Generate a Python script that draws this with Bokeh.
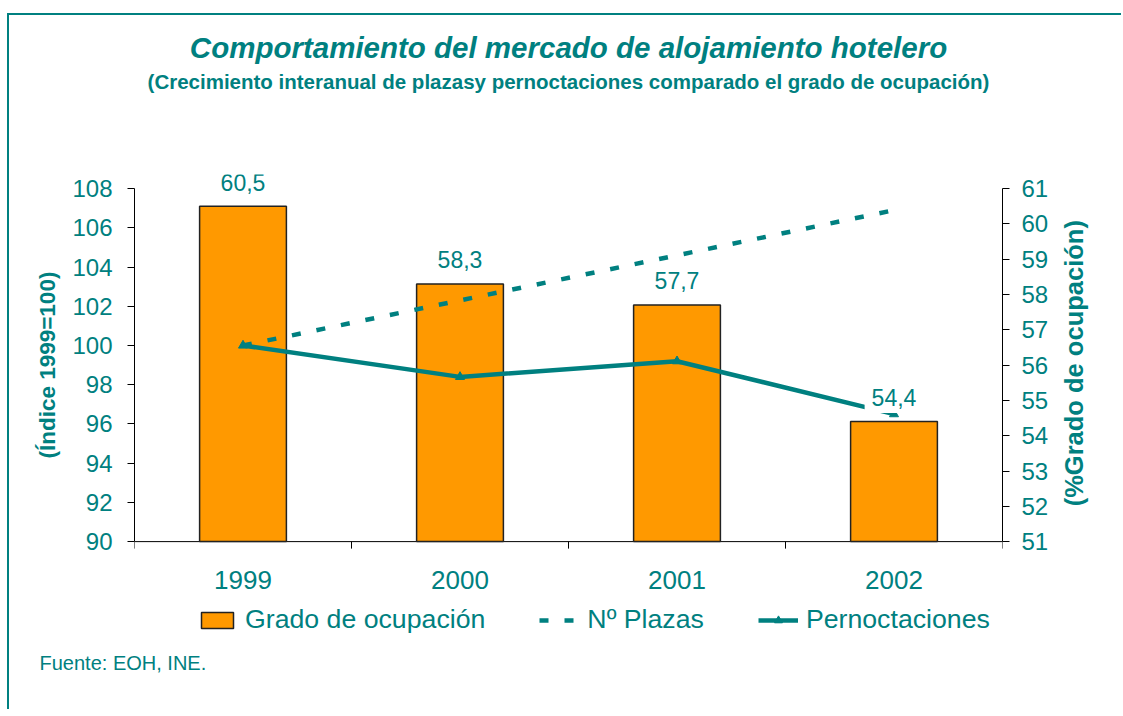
import math
from bokeh.plotting import figure
from bokeh.models import (Range1d, LinearAxis, FixedTicker, Title, Legend, LegendItem,
                          ColumnDataSource, LabelSet, Label)
from bokeh.core.properties import value
from bokeh.embed import file_html
from bokeh.resources import INLINE

years = ["1999", "2000", "2001", "2002"]
ocupacion = [60.5, 58.3, 57.7, 54.4]
plazas = [100.0, 102.3, 104.6, 106.9]
pernoctaciones = [100.0, 98.4, 99.2, 96.5]
left_ticks = [90, 92, 94, 96, 98, 100, 102, 104, 106, 108]
right_ticks = [51, 52, 53, 54, 55, 56, 57, 58, 59, 60, 61]
left_title = "(Índice 1999=100)"
right_title = "(%Grado de ocupación)"

TEAL = "#008080"
ORANGE = "#FF9900"
FONT = "Liberation Sans"
HEAD = 0.04     # room above the top tick (fraction of the axis span) for value labels
FOOT = 0.2943   # room below the bottom tick for the category labels and legend

n = len(years)
xs = [i + 0.5 for i in range(n)]
value_texts = [f"{v:.1f}".replace(".", ",") for v in ocupacion]
src = ColumnDataSource(dict(
    x=xs, occ=ocupacion, pla=plazas, per=pernoctaciones,
    year=years, base=[left_ticks[0]] * n,
))
tick_src = ColumnDataSource(dict(x=list(range(n + 1)), y=[left_ticks[0]] * (n + 1)))

lspan = left_ticks[-1] - left_ticks[0]
rspan = right_ticks[-1] - right_ticks[0]

p = figure(width=1114, height=696, x_range=Range1d(0, n),
           y_range=Range1d(left_ticks[0] - FOOT * lspan, left_ticks[-1] + HEAD * lspan),
           output_backend="svg", toolbar_location=None,
           min_border_left=125, min_border_right=121, min_border_top=159,
           min_border_bottom=66, x_axis_type=None, y_axis_type=None)
p.styles = {"border-left": f"2px solid {TEAL}", "border-top": f"2px solid {TEAL}",
            "margin-top": "13px", "margin-left": "7px"}
p.xgrid.visible = False
p.ygrid.visible = False
p.outline_line_color = None
p.background_fill_color = "white"
p.border_fill_color = "white"

p.extra_y_ranges = {"right": Range1d(right_ticks[0] - FOOT * rspan,
                                     right_ticks[-1] + HEAD * rspan)}


def style_axis(ax):
    ax.axis_line_color = "black"
    ax.major_tick_line_color = "black"
    ax.major_tick_in = 0
    ax.major_tick_out = 7
    ax.minor_tick_in = 0
    ax.minor_tick_out = 0
    ax.major_label_text_font = FONT
    ax.major_label_text_font_size = "24px"
    ax.major_label_text_color = TEAL


def title_axis(ax, size):
    ax.axis_line_color = None
    ax.major_tick_in = 0
    ax.major_tick_out = 0
    ax.minor_tick_in = 0
    ax.minor_tick_out = 0
    ax.major_label_text_font = FONT
    ax.major_label_text_font_style = "bold"
    ax.major_label_text_font_size = size
    ax.major_label_text_color = TEAL


lax = LinearAxis(ticker=FixedTicker(ticks=left_ticks, minor_ticks=[]),
                 bounds=(left_ticks[0], left_ticks[-1]))
style_axis(lax)
lax.major_label_standoff = 15
p.add_layout(lax, "left")

# left axis title, centred on the left scale
lmid = (left_ticks[0] + left_ticks[-1]) // 2
lax2 = LinearAxis(ticker=FixedTicker(ticks=[lmid], minor_ticks=[]),
                  major_label_overrides={lmid: left_title},
                  major_label_orientation="vertical")
title_axis(lax2, "22.5px")
lax2.major_label_standoff = 9
p.add_layout(lax2, "left")

rax = LinearAxis(y_range_name="right", ticker=FixedTicker(ticks=right_ticks, minor_ticks=[]),
                 bounds=(right_ticks[0], right_ticks[-1]))
style_axis(rax)
rax.major_label_standoff = 12
p.add_layout(rax, "right")

# right axis title, reading upwards from the second tick
rstart = right_ticks[1]
rax2 = LinearAxis(y_range_name="right", ticker=FixedTicker(ticks=[rstart], minor_ticks=[]),
                  major_label_overrides={rstart: right_title},
                  major_label_orientation=math.pi / 2)
title_axis(rax2, "25.5px")
rax2.major_label_standoff = 23
p.add_layout(rax2, "right")

# category axis (line, ticks between categories, labels)
p.segment(x0=0, y0=left_ticks[0], x1=n, y1=left_ticks[0], line_color="black", line_width=1)
p.ray(x="x", y="y", source=tick_src, length=7, length_units="screen", angle=-math.pi / 2,
      line_color="black", line_width=1)

bars = p.vbar(x="x", top="occ", bottom=right_ticks[0], width=0.4, source=src,
              y_range_name="right", fill_color=ORANGE, line_color="#222222", line_width=1.5)
dash = p.line(x="x", y="pla", source=src, line_color=TEAL, line_width=4.5,
              line_dash="9 16")
sol = p.line(x="x", y="per", source=src, line_color=TEAL, line_width=4.5)
mk = p.scatter(x="x", y="per", source=src, marker="triangle", size=9,
               fill_color=TEAL, line_color=TEAL)

# value labels above the bars (white box, like the spreadsheet data labels)
for xv, yv, tv in zip(xs, ocupacion, value_texts):
    lab = Label(x=xv, y=yv, y_range_name="right", text=tv, y_offset=24.2,
                text_align="center", text_baseline="alphabetic", text_color=TEAL,
                text_font=FONT, text_font_size="23px", background_fill_color="white")
    if "padding" in lab.properties():
        lab.padding = 7
    p.add_layout(lab)

p.add_layout(LabelSet(x="x", y="base", text="year", source=src, y_offset=-47,
                      text_align="center", text_baseline="alphabetic", text_color=TEAL,
                      text_font=value(FONT), text_font_size="26px"))

legend = Legend(items=[
    LegendItem(label="Grado de ocupación", renderers=[bars]),
    LegendItem(label="Nº Plazas", renderers=[dash]),
    LegendItem(label="Pernoctaciones", renderers=[sol, mk]),
], orientation="horizontal", location=(63, 10), glyph_width=40, glyph_height=20,
    label_standoff=8, spacing=54, padding=0, margin=0, border_line_color=None,
    background_fill_alpha=0, label_text_font=FONT, label_text_font_size="26.7px",
    label_text_color=TEAL)
p.add_layout(legend, "center")

p.add_layout(Title(text="Fuente: EOH, INE.", align="left", offset=-95, standoff=9,
                   text_font=FONT, text_font_style="normal", text_font_size="20px",
                   text_color=TEAL), "below")

# titles (the first one added sits closest to the plot)
p.add_layout(Title(text=" ", standoff=76, text_font_size="1px"), "above")
p.add_layout(Title(text="(Crecimiento interanual de plazasy pernoctaciones comparado el grado de ocupación)",
                   align="center", standoff=5, text_font=FONT, text_font_style="bold",
                   text_font_size="20.5px", text_color=TEAL), "above")
p.add_layout(Title(text="Comportamiento del mercado de alojamiento hotelero",
                   align="center", standoff=3, text_font=FONT,
                   text_font_style="bold italic", text_font_size="29.5px",
                   text_color=TEAL), "above")

open("out.html", "w").write(file_html(p, INLINE))
